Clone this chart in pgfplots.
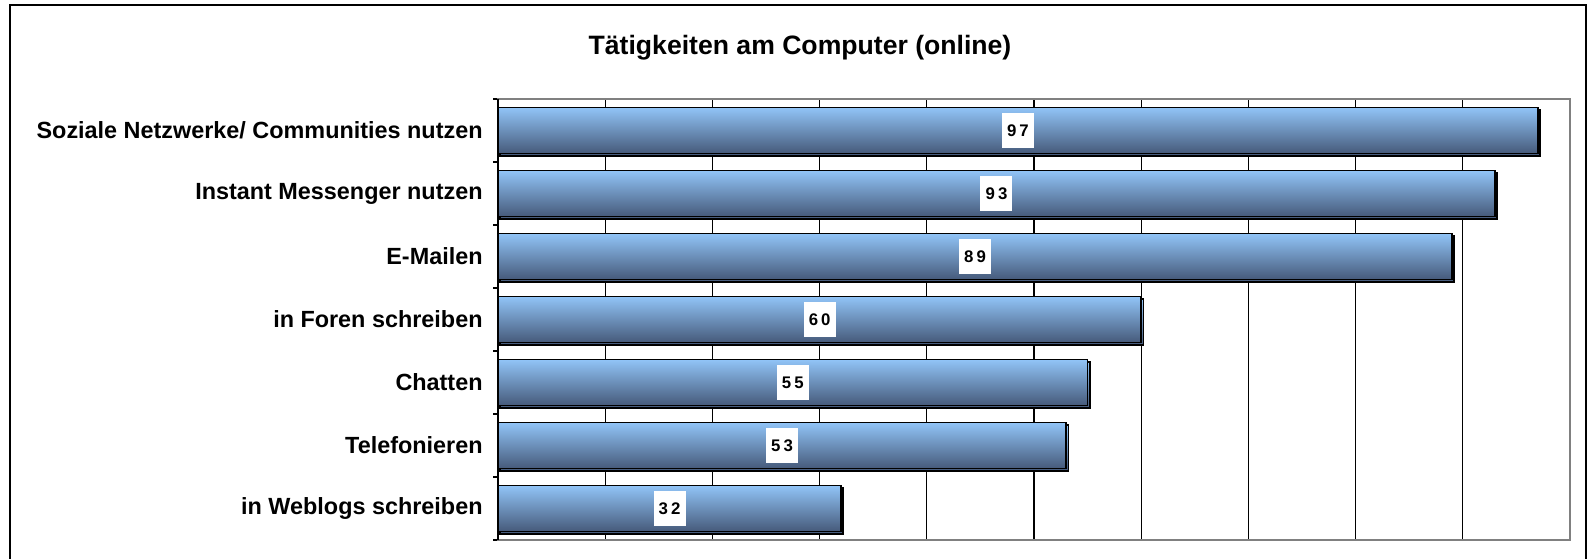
\documentclass[border=0pt]{standalone}
\usepackage{fontspec}
\setmainfont{Liberation Sans}
\newfontfamily\numfont[LetterSpace=18]{Liberation Sans}
\usepackage{pgfplots}
\usepackage{pgfplotstable}
\pgfplotsset{compat=1.18}
\definecolor{barTop}{RGB}{145,196,247}
\definecolor{barBot}{RGB}{70,90,122}
\definecolor{frameGray}{RGB}{128,128,128}
\definecolor{shadowC}{RGB}{185,195,210}
\pgfplotstableread{
idx v
0 97
1 93
2 89
3 60
4 55
5 53
6 32
}\datatable
\begin{document}
\begin{tikzpicture}
\useasboundingbox (0,0) rectangle (794pt,279pt);
\draw[black, line width=1.2pt] (5pt,-2pt) rectangle (793pt,276.5pt);
\node[font=\bfseries\fontsize{13.3}{15}\selectfont, anchor=center] at (400pt,255pt) {Tätigkeiten am Computer (online)};
\begin{axis}[
  at={(249pt,9pt)}, anchor=south west,
  scale only axis,
  width=536pt, height=220.5pt,
  xmin=0, xmax=100,
  ymin=-0.5, ymax=6.5,
  y dir=reverse,
  xtick={0,10,...,100},
  xticklabels={},
  xmajorgrids,
  major x grid style={black, line width=0.6pt},
  ytick={0,...,6},
  yticklabels={Soziale Netzwerke/ Communities nutzen, Instant Messenger nutzen, E-Mailen, in Foren schreiben, Chatten, Telefonieren, in Weblogs schreiben},
  minor ytick={-0.5,0.5,...,6.5},
  major tick length=0pt,
  minor tick length=2.5pt,
  tick align=outside,
  tick pos=left,
  minor tick style={black, line width=0.6pt},
  yticklabel style={font=\bfseries\fontsize{11.7}{13}\selectfont, inner sep=0pt, xshift=-7.5pt},
  axis line style={draw=frameGray, line width=1pt},
  clip=false,
  mybar/.style={xbar, bar width=0.73, bar shift=0pt, draw=black, line width=0.8pt,
    top color=barTop, bottom color=barBot,
    preaction={fill=shadowC, transform canvas={shift={(1.1pt,-1.1pt)}}}},
  after end axis/.code={
    \draw[black, line width=0.8pt] (rel axis cs:0,0) -- (rel axis cs:0,1);
  },
]
\addplot[mybar] coordinates {(97,0)};
\addplot[mybar] coordinates {(93,1)};
\addplot[mybar] coordinates {(89,2)};
\addplot[mybar] coordinates {(60,3)};
\addplot[mybar] coordinates {(55,4)};
\addplot[mybar] coordinates {(53,5)};
\addplot[mybar] coordinates {(32,6)};
\addplot[only marks, mark=none,
  nodes near coords, point meta=explicit symbolic,
  every node near coord/.style={anchor=center, fill=white, inner sep=0pt,
    minimum width=16pt, minimum height=17.5pt,
    font=\numfont\bfseries\fontsize{8.4}{9}\selectfont, text=black}]
  table[x expr=\thisrow{v}/2, y=idx, meta=v] {\datatable};
\end{axis}
\end{tikzpicture}
\end{document}
